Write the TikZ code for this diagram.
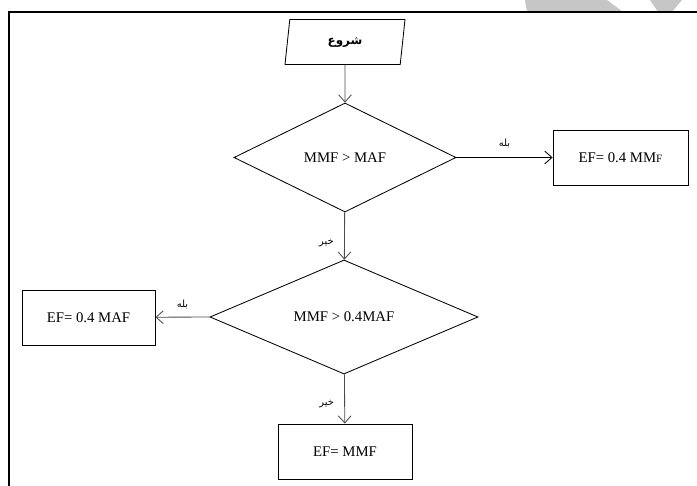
\documentclass[tikz,border=0pt]{standalone}
\usepackage{fontspec}
\setmainfont{Liberation Serif}
\newfontfamily\arabicfont[Script=Arabic]{DejaVu Sans}
\TeXXeTstate=1
\usetikzlibrary{shapes.geometric,arrows.meta}

\begin{document}
\begin{tikzpicture}[x=0.025cm,y=-0.025cm,
  >={Straight Barb[length=1.8mm,width=3.2mm]},
  startbox/.style={draw,trapezium,trapezium left angle=76,trapezium right angle=104,
    trapezium stretches body,minimum width=3cm,minimum height=1.125cm,line width=0.6pt},
  testbox/.style={draw,diamond,line width=0.6pt,font=\fontsize{10.5}{12}\selectfont},
  resultbox/.style={draw,rectangle,minimum height=1.375cm,line width=0.6pt,
    font=\fontsize{10.5}{12}\selectfont},
  flow/.style={->,line width=0.6pt},
  answer/.style={font=\arabicfont\fontsize{7}{8}\selectfont}]
\useasboundingbox (0,0) rectangle (697,486);

% Watermark marks at the top
\fill[gray!45] (525,0) -- (607,0) -- (623,12) -- (527,12) -- cycle;
\fill[gray!45] (650,0) -- (682,0) -- (672,12) -- (658,12) -- cycle;

% Frame
\draw[line width=1.5pt] (697,12) -- (9,12) -- (9,486);

% Start
\node[startbox] (start) at (345,42) {\arabicfont\bfseries\fontsize{8.5}{10}\selectfont\beginR شروع\endR};

% Tests
\node[testbox,aspect=2.04,minimum width=5.55cm,minimum height=2.725cm] (test1) at (345,157.5) {MMF > MAF};
\node[testbox,aspect=2.35,minimum width=6.7cm,minimum height=2.85cm] (test2) at (344,317) {MMF > 0.4MAF};

% Results
\node[resultbox,minimum width=3.375cm] (res1) at (620.5,157.5) {EF= 0.4 MM{\fontsize{8}{10}\selectfont F}};
\node[resultbox,minimum width=3.325cm] (res2) at (88.5,317.5) {EF= 0.4 MAF};
\node[resultbox,minimum width=3.35cm] (res3) at (345,451.5) {EF= MMF};

% Connectors
\draw[flow,gray!60!black] (start) -- (test1);
\draw[flow] (test1) -- (res1) node[answer,midway,above=3pt] {\beginR بله\endR};
\draw[flow,gray!60!black] (test1) -- (test2) node[answer,pos=0.65,left=4pt,black] {\beginR خیر\endR};
\draw[flow,gray!60!black] (test2.west) -- (res2) node[answer,midway,above=2pt,black] {\beginR بله\endR};
\draw[flow,gray!60!black] (test2) -- (res3) node[answer,pos=0.6,left=4pt,black] {\beginR خیر\endR};
\end{tikzpicture}
\end{document}
